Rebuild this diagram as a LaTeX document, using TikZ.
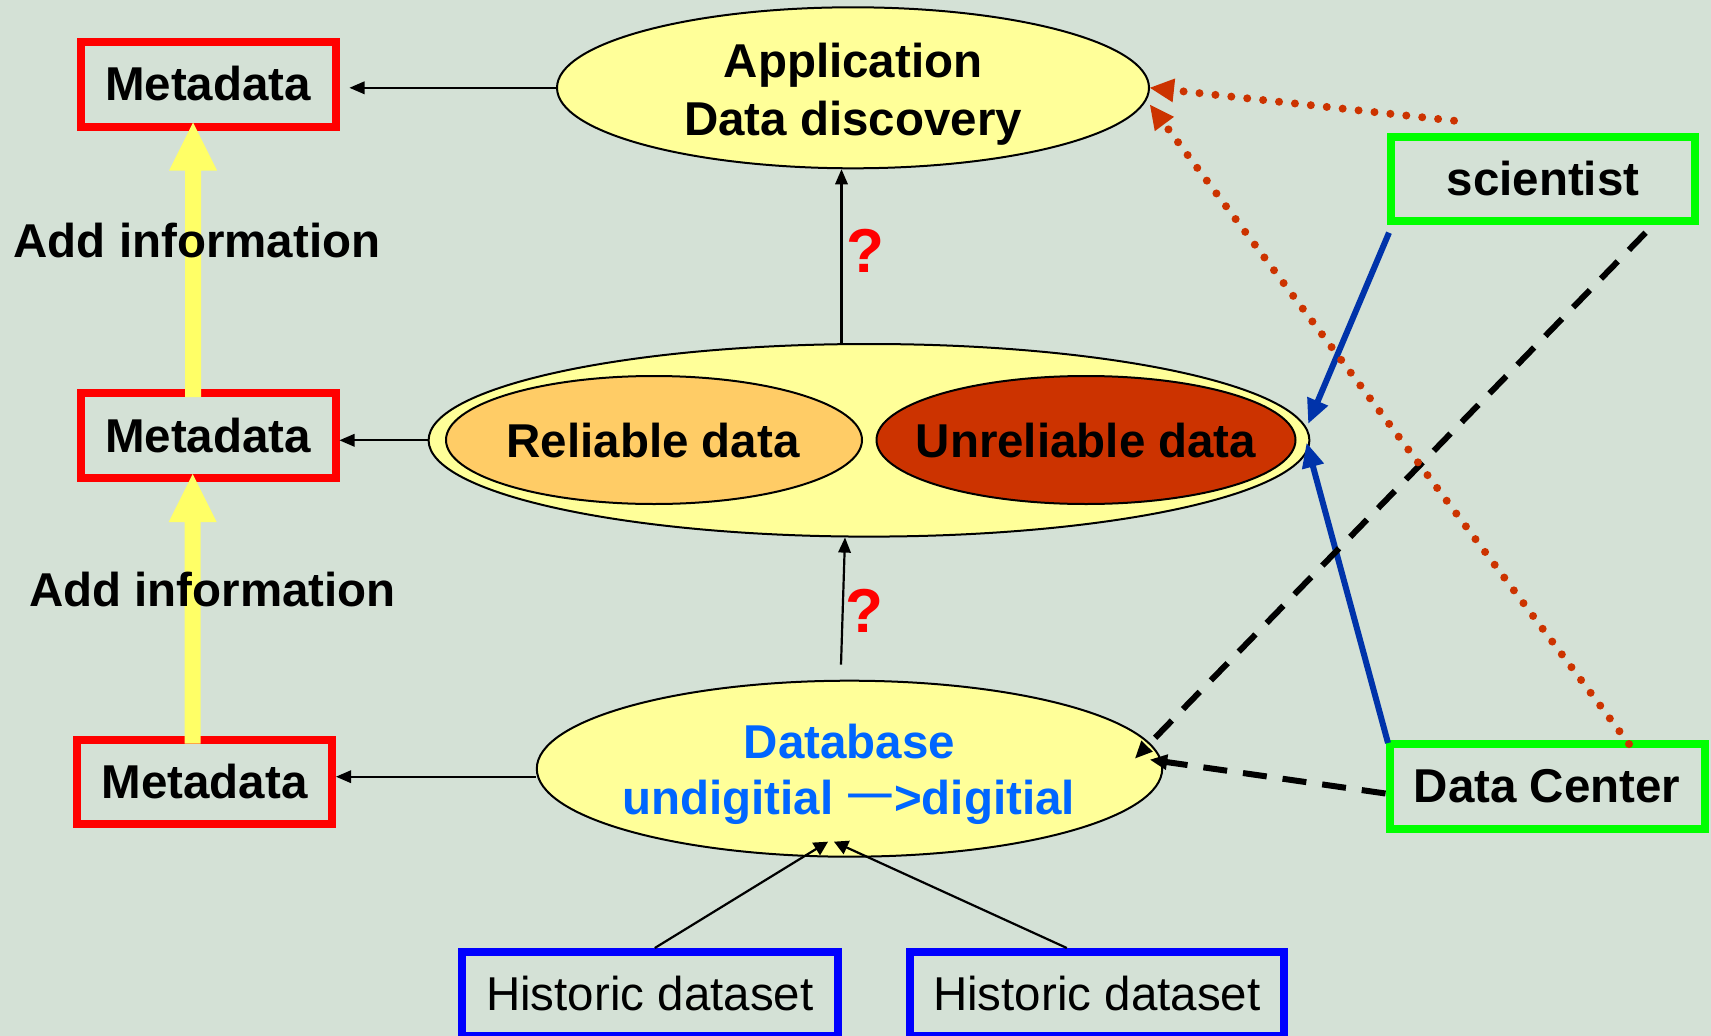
\documentclass[tikz,border=0pt]{standalone}
\usepackage{fontspec}
\setmainfont{Liberation Sans}
\newfontfamily\cjkfont{Noto Sans CJK SC}
\usetikzlibrary{shapes.geometric,calc}

\definecolor{bgcol}{HTML}{D4E1D6}
\definecolor{pale}{HTML}{FFFF99}
\definecolor{reliablecol}{HTML}{FFCC66}
\definecolor{unreliablecol}{HTML}{CC3300}
\definecolor{arrowyellow}{HTML}{FFFF66}
\definecolor{dotred}{HTML}{CC3300}
\definecolor{darkblue}{HTML}{0033AA}
\definecolor{dbblue}{HTML}{0066FF}

\tikzset{
  bigtext/.style={font=\bfseries\fontsize{47.5pt}{57pt}\selectfont},
  plaintext/.style={font=\fontsize{47.5pt}{57pt}\selectfont},
  qmark/.style={text=red, font=\bfseries\fontsize{62pt}{62pt}\selectfont},
  framebox/.style={rectangle, line width=8pt, inner sep=0pt, fill=none},
  metabox/.style={framebox, draw=red, minimum width=255pt, minimum height=85pt, bigtext},
  actorbox/.style={framebox, draw=green, minimum height=84pt, bigtext},
  histbox/.style={framebox, draw=blue, minimum height=84pt, plaintext},
  oval/.style={ellipse, draw=black, line width=2pt, inner sep=0pt},
  thinline/.style={black, line width=2.2pt},
  dotline/.style={dotred, line width=8pt, line cap=round, dash pattern=on 0pt off 16pt},
  blueline/.style={darkblue, line width=6pt},
  dashline/.style={black, line width=6pt, dash pattern=on 24pt off 16pt},
}

% connector with a filled triangular head:
% #1 line style, #2 head colour, #3 head length, #4 half head width, #5 from, #6 to
\newcommand{\tiplink}[6]{%
  \draw[#1, shorten >=#3pt-1pt] (#5) -- (#6);
  \path ($(#6)!#3pt!(#5)$) coordinate (tipbase);
  \fill[#2] (#6) -- ($(tipbase)!#4pt!90:(#6)$) -- ($(tipbase)!#4pt!-90:(#6)$) -- cycle;}

\begin{document}
\begin{tikzpicture}[x=1pt,y=-1pt]
  % page background
  \fill[bgcol] (0,0) rectangle (1711,1036);
  \useasboundingbox (0,0) rectangle (1711,1036);

  % ellipses
  \node[oval, fill=pale, minimum width=592pt, minimum height=161pt] (app) at (853,87.8) {};
  \node[oval, fill=pale, minimum width=880.8pt, minimum height=192.6pt] (mid) at (869,440.3) {};
  \node[oval, fill=reliablecol, minimum width=416pt, minimum height=128pt] (rel) at (654,440) {};
  \node[oval, fill=unreliablecol, minimum width=419pt, minimum height=128pt] (unrel) at (1086,440) {};
  \node[oval, fill=pale, minimum width=625.4pt, minimum height=176pt] (db) at (849.5,768.7) {};

  % ellipse labels
  \node[bigtext, anchor=base] (apptxtA) at (853,77.3) {Application};
  \node[bigtext, anchor=base] (apptxtB) at (853,135) {Data discovery};
  \node[bigtext, anchor=base] (reltxt) at (653,457.3) {Reliable data};
  \node[bigtext, anchor=base] (unreltxt) at (1086,457.3) {Unreliable data};
  \node[bigtext, text=dbblue, anchor=base] (dbtxtA) at (849.5,758) {Database};
  \node[bigtext, text=dbblue, anchor=base] (dbtxtB) at (848.7,814) {undigitial {\cjkfont\mdseries 一}>digitial};

  % boxes
  \node[metabox] (meta1) at (208,84) {Metadata};
  \node[metabox] (meta2) at (208,435.5) {Metadata};
  \node[metabox, minimum width=254.7pt, minimum height=84.6pt] (meta3) at (204.7,782) {Metadata};
  \node[actorbox, minimum width=304pt] (sci) at (1543,178.7) {scientist};
  \node[actorbox, minimum width=315pt, minimum height=85pt] (dc) at (1547,786.5) {Data Center};
  \node[histbox, minimum width=376pt] (histA) at (649.8,994) {Historic dataset};
  \node[histbox, minimum width=374pt] (histB) at (1096.8,994) {Historic dataset};

  % broad yellow arrows between the metadata boxes
  \coordinate (yaAs) at ([shift={(-15,8)}]meta2.north);
  \coordinate (yaAt) at ([shift={(-15,-8)}]meta1.south);
  \coordinate (yaBs) at ([shift={(-12,8)}]meta3.north);
  \coordinate (yaBt) at ($(yaBs |- meta2.south)+(0,-8)$);
  \foreach \s/\t in {yaAs/yaAt, yaBs/yaBt} {
    \fill[arrowyellow] ($(\s)+(-8,0)$) -- ($(\t)+(-8,48)$) -- ($(\t)+(-24,48)$) -- (\t)
      -- ($(\t)+(24,48)$) -- ($(\t)+(8,48)$) -- ($(\s)+(8,0)$) -- cycle;
  }
  \node[bigtext, anchor=base] (addA) at (197,257) {Add information};
  \node[bigtext, anchor=base] (addB) at (212.5,606.7) {Add information};

  % connector end points
  \coordinate (appW) at (app.west);
  \coordinate (appWend) at ($(app.west -| meta1.east)+(10,0)$);
  \coordinate (midW) at (mid.west);
  \coordinate (midWend) at (mid.west -| meta2.east);
  \coordinate (dbW) at ([shift={(0,8)}]db.west);
  \coordinate (dbWend) at ($(db.west -| meta3.east)+(0,8)$);
  \coordinate (midN) at ([xshift=-27.5]mid.north);
  \coordinate (appS) at ([xshift=-11.5]app.south);
  \coordinate (dbN) at ([shift={(-8.5,-15)}]db.north);
  \coordinate (midS) at ([xshift=-24]mid.south);
  \coordinate (hAn) at ([xshift=5]histA.north);
  \coordinate (dbSa) at ([shift={(-21.5,-16)}]db.south);
  \coordinate (hBn) at ([xshift=-30]histB.north);
  \coordinate (dbSb) at ([shift={(-15.5,-16)}]db.south);
  \coordinate (sciSW) at ([shift={(2,8)}]sci.south west);
  \coordinate (midEa) at ([shift={(-2,-17)}]mid.east);
  \coordinate (dcNW) at ([shift={(2.5,3)}]dc.north west);
  \coordinate (midEb) at ([shift={(-3.7,3)}]mid.east);
  \coordinate (sciS) at ([shift={(102.6,8)}]sci.south);
  \coordinate (dbEa) at ([shift={(-28,-10.4)}]db.east);
  \coordinate (dcW) at ([shift={(0,7)}]dc.west);
  \coordinate (dbEb) at ([shift={(-13,-9)}]db.east);
  \coordinate (sciN) at ([shift={(-89,-12)}]sci.north);
  \coordinate (appEa) at (app.east);
  \coordinate (dcN) at ([shift={(82,4)}]dc.north);
  \coordinate (appEb) at ([shift={(0,17)}]app.east);

  % thin black connectors
  \tiplink{thinline}{black}{15}{6.5}{appW}{appWend}
  \tiplink{thinline}{black}{15}{6.5}{midW}{midWend}
  \tiplink{thinline}{black}{15}{6.5}{dbW}{dbWend}
  \tiplink{thinline}{black}{15}{6.5}{midN}{appS}
  \tiplink{thinline}{black}{15}{6.5}{dbN}{midS}
  \tiplink{thinline}{black}{14}{7.5}{hAn}{dbSa}
  \tiplink{thinline}{black}{14}{7.5}{hBn}{dbSb}

  \node[qmark, anchor=base] (qA) at (865,272) {?};
  \node[qmark, anchor=base] (qB) at (864.5,632.7) {?};

  % scientist and data center links
  \tiplink{blueline}{darkblue}{24}{11.5}{sciSW}{midEa}
  \tiplink{blueline}{darkblue}{24}{11.5}{dcNW}{midEb}
  \tiplink{dashline}{black}{17}{8}{sciS}{dbEa}
  \tiplink{dashline}{black}{17}{8}{dcW}{dbEb}
  \tiplink{dotline}{dotred}{24}{12}{sciN}{appEa}
  \tiplink{dotline}{dotred}{24}{12}{dcN}{appEb}
\end{tikzpicture}
\end{document}
